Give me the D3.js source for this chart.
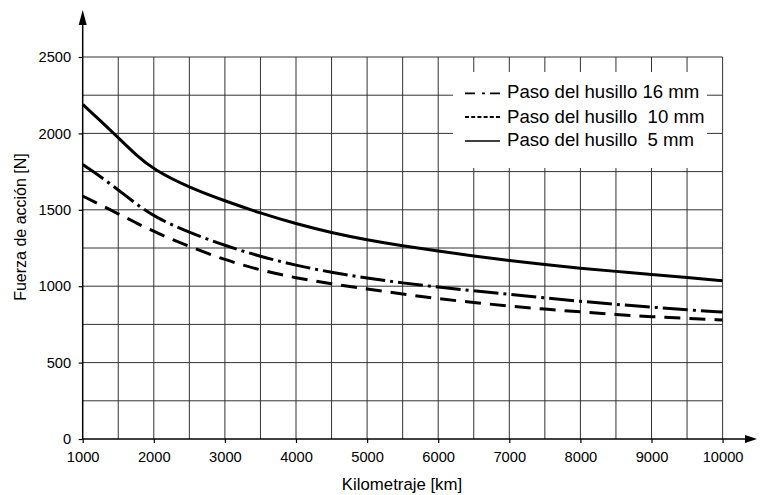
<!DOCTYPE html>
<html>
<head>
<meta charset="utf-8">
<script src="https://cdn.jsdelivr.net/npm/d3@7"></script>
<style>
  html, body { margin: 0; padding: 0; background: #fff; }
  svg { display: block; font-family: "Liberation Sans", Arial, Helvetica, sans-serif; }
</style>
</head>
<body>
<svg id="chart" width="760" height="495"></svg>
<script>
const kmValues = [1000,1250,1500,1750,2000,2500,3000,3500,4000,4500,5000,5500,6000,6500,7000,7500,8000,8500,9000,9500,10000];
const paso5 = [2190,2083,1972,1859,1762,1645,1558,1478,1408,1350,1303,1264,1230,1198,1168,1141,1117,1097,1077,1057,1036];
const paso16 = [1796,1718,1630,1540,1455,1350,1266,1194,1136,1090,1053,1021,994,970,947,923,901,881,863,845,831];
const paso10 = [1590,1532,1474,1415,1357,1259,1172,1104,1054,1015,982,949,918,893,870,850,832,815,800,789,779];
const xTickLabels = [1000,2000,3000,4000,5000,6000,7000,8000,9000,10000];
const yTickLabels = [0,500,1000,1500,2000,2500];
const legendLabels = ["Paso del husillo 16 mm", "Paso del husillo\u00a0 10 mm", "Paso del husillo\u00a0 5 mm"];
const xTitle = "Kilometraje [km]";
const yTitle = "Fuerza de acción [N]";

const svg = d3.select("#chart");
const x = d3.scaleLinear().domain([1000, 10000]).range([82.7, 722.6]);
const y = d3.scaleLinear().domain([0, 2500]).range([439, 57]);

// grid
const gridX = d3.range(1500, 10001, 500);
const gridY = d3.range(250, 2501, 250);
const grid = svg.append("g").attr("stroke", "#333").attr("stroke-width", 1);
grid.selectAll("line.v").data(gridX).join("line")
  .attr("x1", d => x(d)).attr("x2", d => x(d))
  .attr("y1", y(2500)).attr("y2", y(0));
grid.selectAll("line.h").data(gridY).join("line")
  .attr("x1", x(1000)).attr("x2", x(10000))
  .attr("y1", d => y(d)).attr("y2", d => y(d));

// legend background
svg.append("rect").attr("x", 453).attr("y", 72).attr("width", 254).attr("height", 96).attr("fill", "#fff");

// axes
const xAxis = d3.axisBottom(x).tickValues(xTickLabels).tickSize(4).tickPadding(9).tickFormat(d3.format("d"));
const gx = svg.append("g").attr("transform", `translate(0,${y(0)})`).call(xAxis);
gx.select(".domain").remove();
gx.selectAll(".tick line").attr("stroke", "#000").attr("stroke-width", 1.2);
gx.selectAll(".tick text").attr("font-size", 14.7).attr("fill", "#000").attr("font-family", "Liberation Sans, Arial, sans-serif");

const yAxis = d3.axisLeft(y).tickValues(yTickLabels).tickSize(4).tickPadding(7.5).tickFormat(d3.format("d"));
const gy = svg.append("g").attr("transform", `translate(${x(1000)},0)`).call(yAxis);
gy.select(".domain").remove();
gy.selectAll(".tick line").attr("stroke", "#000").attr("stroke-width", 1.2);
gy.selectAll(".tick text").attr("font-size", 14.7).attr("fill", "#000").attr("font-family", "Liberation Sans, Arial, sans-serif");

// axis lines with arrows
svg.append("line").attr("x1", x(1000)).attr("x2", 748).attr("y1", y(0)).attr("y2", y(0))
  .attr("stroke", "#000").attr("stroke-width", 1.5);
svg.append("path").attr("d", `M757,${y(0)} L745,${y(0)-4} L745,${y(0)+4} Z`).attr("fill", "#000");
svg.append("line").attr("x1", x(1000)).attr("x2", x(1000)).attr("y1", y(0)).attr("y2", 22)
  .attr("stroke", "#000").attr("stroke-width", 1.5);
svg.append("path").attr("d", `M${x(1000)},10 L${x(1000)-4},25 L${x(1000)+4},25 Z`).attr("fill", "#000");

// titles
svg.append("text").attr("x", 402).attr("y", 490).attr("text-anchor", "middle")
  .attr("font-size", 16.8).text(xTitle);
svg.append("text").attr("transform", "translate(26,227) rotate(-90)").attr("text-anchor", "middle")
  .attr("font-size", 16).text(yTitle);

// curves
const line = d3.line().x((d, i) => x(kmValues[i])).y(d => y(d)).curve(d3.curveBasis);
svg.append("path").attr("d", line(paso5)).attr("fill", "none").attr("stroke", "#000").attr("stroke-width", 3);
svg.append("path").attr("d", line(paso16)).attr("fill", "none").attr("stroke", "#000").attr("stroke-width", 3)
  .attr("stroke-dasharray", "25,5,3,5");
svg.append("path").attr("d", line(paso10)).attr("fill", "none").attr("stroke", "#000").attr("stroke-width", 3)
  .attr("stroke-dasharray", "16,9");

// legend
const leg = svg.append("g");
const rowsY = [98.3, 122.5, 146];
leg.selectAll("text").data(legendLabels).join("text")
  .attr("x", 507).attr("y", (d, i) => rowsY[i]).attr("font-size", 18.6).text(d => d);
// symbol 1: dash dot dash
const s1y = rowsY[0] - 5;
leg.append("line").attr("x1", 465).attr("x2", 500).attr("y1", s1y).attr("y2", s1y)
  .attr("stroke", "#000").attr("stroke-width", 1.8).attr("stroke-dasharray", "10,7,3,5,10");
// symbol 2: short dashes
const s2y = rowsY[1] - 5.5;
leg.append("line").attr("x1", 465).attr("x2", 501).attr("y1", s2y).attr("y2", s2y)
  .attr("stroke", "#000").attr("stroke-width", 2.2).attr("stroke-dasharray", "4,2.2");
// symbol 3: solid
const s3y = rowsY[2] - 5;
leg.append("line").attr("x1", 465).attr("x2", 500).attr("y1", s3y).attr("y2", s3y)
  .attr("stroke", "#000").attr("stroke-width", 1.5);
</script>
</body>
</html>
